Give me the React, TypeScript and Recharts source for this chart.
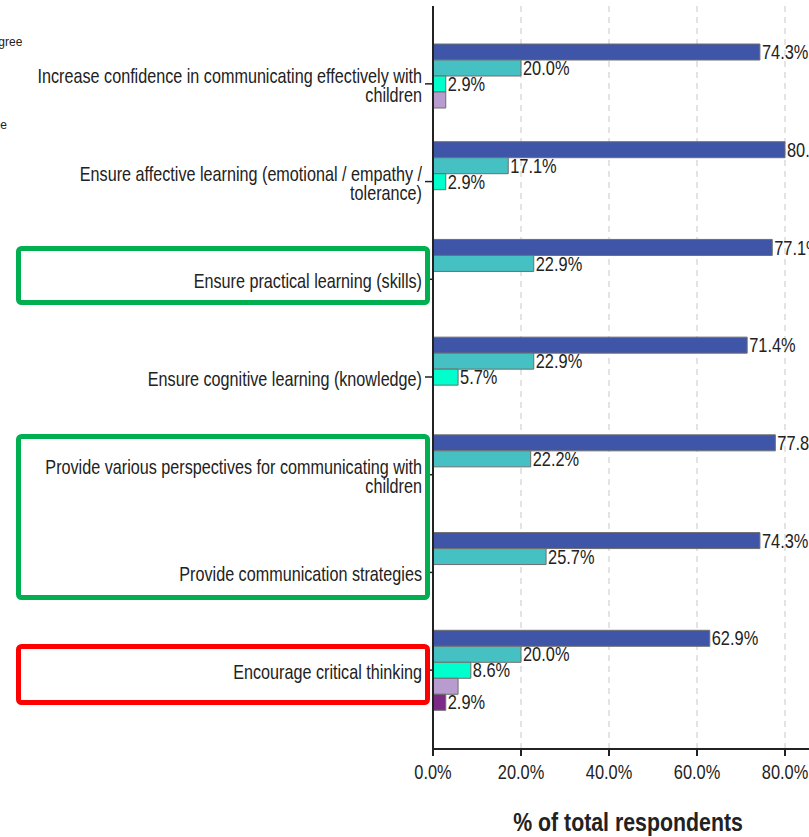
// @ts-nocheck
import { BarChart, Bar, XAxis, YAxis, CartesianGrid, LabelList } from 'recharts';

const categories = [
  'Increase confidence in communicating effectively with\nchildren',
  'Ensure affective learning (emotional / empathy /\ntolerance)',
  'Ensure practical learning (skills)',
  'Ensure cognitive learning (knowledge)',
  'Provide various perspectives for communicating with\nchildren',
  'Provide communication strategies',
  'Encourage critical thinking',
];

const stronglyAgree = [74.3, 80.0, 77.1, 71.4, 77.8, 74.3, 62.9];
const agree = [20.0, 17.1, 22.9, 22.9, 22.2, 25.7, 20.0];
const neutral = [2.9, 2.9, null, 5.7, null, null, 8.6];
const disagree = [2.9, null, null, null, null, null, 5.7];
const stronglyDisagree = [null, null, null, null, null, null, 2.9];

const xTicks = [0, 20, 40, 60, 80, 100];
const legendNames = ['Strongly disagree', 'Disagree', 'Neutral', 'Agree', 'Strongly agree'];

const data = categories.map((name, i) => ({
  name,
  stronglyAgree: stronglyAgree[i],
  agree: agree[i],
  neutral: neutral[i],
  disagree: disagree[i],
  stronglyDisagree: stronglyDisagree[i],
}));

const series = [
  { key: 'stronglyAgree', color: '#3F55A7', label: true },
  { key: 'agree', color: '#45C1C3', label: true },
  { key: 'neutral', color: '#00FFCC', label: true },
  { key: 'disagree', color: '#B99CCF', label: false },
  { key: 'stronglyDisagree', color: '#7B2A86', label: true },
];

const FONT = '"Liberation Sans", Arial, sans-serif';

// SPSS output uses a narrow face; squeeze Liberation Sans horizontally
function NText({ x, y, anchor = 'start', size = 20, bold = false, sx = 0.82, children }) {
  return (
    <text
      transform={`translate(${x},${y}) scale(${sx},1)`}
      textAnchor={anchor}
      dominantBaseline="central"
      fontFamily={FONT}
      fontSize={size}
      fontWeight={bold ? 'bold' : 'normal'}
      fill="#222"
    >
      {children}
    </text>
  );
}

function CategoryTick({ x, y, payload }) {
  const lines = String(payload.value).split('\n');
  return (
    <g>
      {lines.map((line, i) => (
        <NText key={i} x={x} y={y + (i - (lines.length - 1) / 2) * 19 + 2} anchor="end" size={19.5} sx={0.83}>
          {line}
        </NText>
      ))}
    </g>
  );
}

function PctTick({ x, y, payload }) {
  return (
    <NText x={x} y={y + 7} anchor="middle" size={20}>
      {`${payload.value.toFixed(1)}%`}
    </NText>
  );
}

function ValueLabel({ x, y, width, height, value }) {
  if (value == null || value === 0) return null;
  return (
    <NText x={x + width + 2} y={y + height / 2} size={20}>
      {`${Number(value).toFixed(1)}%`}
    </NText>
  );
}

function AxisTitle({ viewBox }) {
  return (
    <NText x={viewBox.x + viewBox.width / 2 - 25} y={822} anchor="middle" size={26} bold>
      % of total respondents
    </NText>
  );
}

export default function App() {
  return (
    <div style={{ position: 'absolute', left: 0, top: 0, width: 809, height: 837, overflow: 'hidden', background: '#fff' }}>
      <BarChart
        width={900}
        height={837}
        layout="vertical"
        data={data}
        margin={{ top: 6, right: 27, bottom: 0, left: 0 }}
        barGap={0}
        barSize={16}
      >
        <CartesianGrid horizontal={false} strokeDasharray="6 5" stroke="#c8c8c8" />
        <XAxis
          type="number"
          domain={[0, 100]}
          ticks={xTicks}
          height={88}
          tickSize={7}
          tickMargin={9}
          axisLine={{ stroke: '#222', strokeWidth: 2 }}
          tickLine={{ stroke: '#222', strokeWidth: 2 }}
          tick={<PctTick />}
          label={{ content: AxisTitle }}
        />
        <XAxis
          xAxisId="top"
          orientation="top"
          type="number"
          domain={[0, 100]}
          height={0}
          tick={false}
          tickLine={false}
          axisLine={{ stroke: '#333', strokeWidth: 1.5 }}
        />
        <YAxis
          type="category"
          dataKey="name"
          width={433}
          padding={{ top: 29, bottom: 30 }}
          tickSize={8}
          tickMargin={3}
          axisLine={{ stroke: '#222', strokeWidth: 2 }}
          tickLine={{ stroke: '#222', strokeWidth: 1.5 }}
          tick={<CategoryTick />}
          interval={0}
        />
        {series.map((s) => (
          <Bar
            key={s.key}
            dataKey={s.key}
            fill={s.color}
            stroke="#6e6e6e"
            strokeWidth={1}
            isAnimationActive={false}
          >
            {s.label && <LabelList dataKey={s.key} content={ValueLabel} />}
          </Bar>
        ))}
      </BarChart>
      <svg width={809} height={837} style={{ position: 'absolute', left: 0, top: 0, pointerEvents: 'none' }}>
        {legendNames.map((n, i) => (
          <text
            key={n}
            x={-71}
            y={42 + i * 20.75}
            dominantBaseline="central"
            fontFamily={FONT}
            fontSize={12}
            fill="#222"
          >
            {n}
          </text>
        ))}
        <rect x={18.5} y={248.5} width={409} height={54} rx={3} fill="none" stroke="#00B050" strokeWidth={5} />
        <rect x={18.5} y={436.5} width={409} height={161} rx={3} fill="none" stroke="#00B050" strokeWidth={5} />
        <rect x={18.5} y={646.5} width={409} height={56} rx={3} fill="none" stroke="#FF0000" strokeWidth={5} />
      </svg>
    </div>
  );
}
